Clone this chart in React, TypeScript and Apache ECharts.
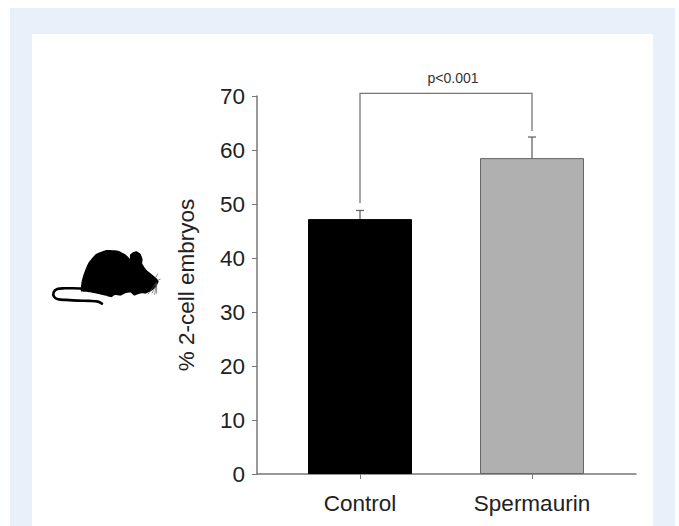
import React, { useEffect, useRef } from "react";
import * as echarts from "echarts";

const categories = ["Control", "Spermaurin"];
const means = [47.2, 58.5];
const errorTops = [48.8, 62.4];
const bracketEnds = [50.2, 63.5];
const bracketTop = 70.5;
const pLabel = "p<0.001";
const yTicks = { min: 0, max: 70, interval: 10 };
const yName = "% 2-cell embryos";

const FONT = '"Liberation Sans", Arial, sans-serif';
const LINE = "#777777";

// Mouse silhouette traced in 3x crop coordinates
const mouseBody = [
  [99, 139], [101, 110], [108, 85], [120, 56], [143, 28], [175, 15], [210, 17], [232, 28], [246, 41],
  [246, 30], [255, 22], [266, 19], [278, 27], [284, 42], [283, 56], [297, 76], [314, 90], [328, 102], [332, 110],
  [324, 126], [307, 140], [293, 146], [280, 145], [270, 148], [258, 152], [248, 143], [232, 145], [218, 152],
  [200, 150], [190, 157], [172, 152], [150, 147], [125, 142],
];
const mouseTail = [
  [105, 131], [75, 130], [50, 130], [28, 132], [17, 142], [18, 155], [30, 163], [55, 165], [90, 167],
  [125, 168], [150, 170], [162, 176],
];
const whiskers = [
  [[326, 112], [300, 148]],
  [[326, 116], [312, 146]],
  [[326, 116], [320, 150]],
  [[326, 116], [326, 146]],
  [[322, 100], [330, 86]],
  [[330, 106], [338, 102]],
];

export default function App() {
  const ref = useRef<HTMLDivElement>(null);
  useEffect(() => {
    const chart = echarts.init(ref.current!, undefined, { renderer: "svg" });
    chart.setOption({
      animation: false,
      backgroundColor: "#ffffff",
      textStyle: { fontFamily: FONT },
      grid: [
        { left: 274, width: 344, top: 96, height: 378 },
        { left: 257, width: 379, top: 96, height: 378 },
      ],
      xAxis: [
        {
          type: "category",
          gridIndex: 0,
          data: categories,
          axisLine: { show: false },
          axisTick: { show: true, alignWithLabel: true, length: 5, lineStyle: { color: LINE, width: 1 } },
          axisLabel: { color: "#222222", fontSize: 22.5, fontFamily: FONT, margin: 18 },
        },
        {
          type: "value",
          gridIndex: 1,
          min: 0,
          max: 1,
          axisLine: { show: true, lineStyle: { color: LINE, width: 1.5 } },
          axisTick: { show: false },
          axisLabel: { show: false },
          splitLine: { show: false },
        },
      ],
      yAxis: [
        { type: "value", gridIndex: 0, ...yTicks, show: false, splitLine: { show: false } },
        {
          type: "value",
          gridIndex: 1,
          ...yTicks,
          name: yName,
          nameLocation: "middle",
          nameGap: 59,
          nameTextStyle: { color: "#222222", fontSize: 22.5, fontFamily: FONT },
          axisLine: { show: true, lineStyle: { color: LINE, width: 1.5 } },
          axisTick: { show: true, length: 5, lineStyle: { color: LINE, width: 1 } },
          axisLabel: { color: "#222222", fontSize: 22.5, fontFamily: FONT, margin: 12 },
          splitLine: { show: false },
        },
      ],
      series: [
        {
          type: "bar",
          xAxisIndex: 0,
          yAxisIndex: 0,
          barWidth: 104,
          data: [
            { value: means[0], itemStyle: { color: "#000000", borderColor: "#000000", borderWidth: 1 } },
            { value: means[1], itemStyle: { color: "#b0b0b0", borderColor: "#666666", borderWidth: 1 } },
          ],
          z: 2,
        },
        {
          type: "custom",
          xAxisIndex: 0,
          yAxisIndex: 0,
          z: 3,
          data: means.map((m, i) => [i, m, errorTops[i]]),
          renderItem: (_p: any, api: any) => {
            const a = api.coord([api.value(0), api.value(1)]);
            const b = api.coord([api.value(0), api.value(2)]);
            const style = { stroke: "#666666", lineWidth: 1.3, fill: "none" };
            return {
              type: "group",
              children: [
                { type: "line", shape: { x1: a[0], y1: a[1], x2: b[0], y2: b[1] }, style },
                { type: "line", shape: { x1: b[0] - 4, y1: b[1], x2: b[0] + 4, y2: b[1] }, style },
              ],
            };
          },
        },
        {
          type: "custom",
          xAxisIndex: 0,
          yAxisIndex: 0,
          z: 3,
          clip: false,
          data: [[0, 1, bracketEnds[0], bracketEnds[1], bracketTop]],
          renderItem: (_p: any, api: any) => {
            const l0 = api.coord([api.value(0), api.value(2)]);
            const l1 = api.coord([api.value(0), api.value(4)]);
            const r0 = api.coord([api.value(1), api.value(3)]);
            const r1 = api.coord([api.value(1), api.value(4)]);
            return {
              type: "group",
              children: [
                {
                  type: "polyline",
                  shape: { points: [l0, l1, r1, r0] },
                  style: { stroke: LINE, lineWidth: 1.3, fill: "none" },
                },
                {
                  type: "text",
                  style: {
                    x: (l1[0] + r1[0]) / 2 + 7,
                    y: l1[1] - 15,
                    text: pLabel,
                    fill: "#333333",
                    fontSize: 14,
                    fontFamily: FONT,
                    align: "center",
                    verticalAlign: "middle",
                  },
                },
              ],
            };
          },
        },
      ],
      graphic: [
        { type: "rect", z: -10, silent: true, shape: { x: 10, y: 8, width: 665, height: 518 }, style: { fill: "#e8f0f9" } },
        { type: "rect", z: -9, silent: true, shape: { x: 32, y: 34, width: 621, height: 492 }, style: { fill: "#ffffff" } },
        {
          type: "group",
          x: 48,
          y: 245,
          scaleX: 1 / 3,
          scaleY: 1 / 3,
          silent: true,
          children: [
            { type: "polygon", shape: { points: mouseBody, smooth: 0.15 }, style: { fill: "#000000" } },
            { type: "polyline", shape: { points: mouseTail, smooth: 0.3 }, style: { stroke: "#000000", lineWidth: 8, fill: "none", lineCap: "round" } },
            ...whiskers.map((w) => ({
              type: "polyline",
              shape: { points: w },
              style: { stroke: "#555555", lineWidth: 2, fill: "none" },
            })),
          ],
        },
      ],
    });
    return () => chart.dispose();
  }, []);
  return <div ref={ref} style={{ position: "fixed", left: 0, top: 0, width: 679, height: 526 }} />;
}
